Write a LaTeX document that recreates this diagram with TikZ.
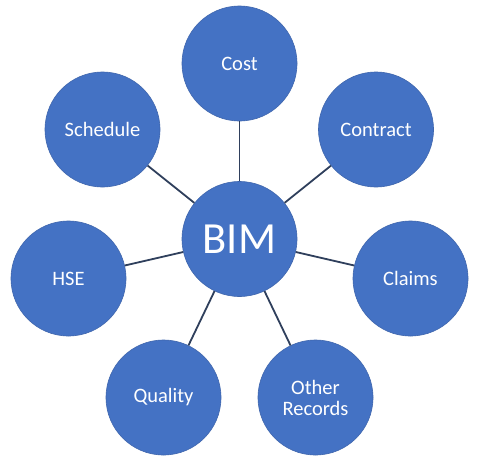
\documentclass[tikz,border=0pt]{standalone}
\usepackage{fontspec}
\setmainfont{Carlito}
\definecolor{circfill}{HTML}{4472C4}
\definecolor{circline}{HTML}{3F66AD}
\definecolor{linkcol}{HTML}{2F3F5C}
\begin{document}
\begin{tikzpicture}[x=1pt,y=-1pt,
  bubble/.style={circle,fill=circfill,draw=circline,line width=0.6pt,minimum size=115pt,inner sep=0pt,text=white,font=\fontsize{20.5}{23}\selectfont,align=center},
  hub/.style={bubble,font=\fontsize{44.5}{46}\selectfont},
  link/.style={draw=linkcol,line width=1.8pt}]
\useasboundingbox[fill=white] (0,0) rectangle (478,471);
\node[hub] (bim) at (239.5,239) {BIM};
\node[bubble] (cost) at (239.5,63.5) {Cost};
\node[bubble] (sched) at (102.5,129.5) {Schedule};
\node[bubble] (contract) at (376,129.5) {Contract};
\node[bubble] (hse) at (68.5,278.5) {HSE};
\node[bubble] (claims) at (410.5,278.5) {Claims};
\node[bubble] (quality) at (163.5,397.5) {Quality};
\node[bubble] (other) at (315.5,397.5) {Other\\[-2pt]Records};
\foreach \n in {cost,sched,contract,hse,claims,quality,other}
  \draw[link] (bim) -- (\n);
\end{tikzpicture}
\end{document}
